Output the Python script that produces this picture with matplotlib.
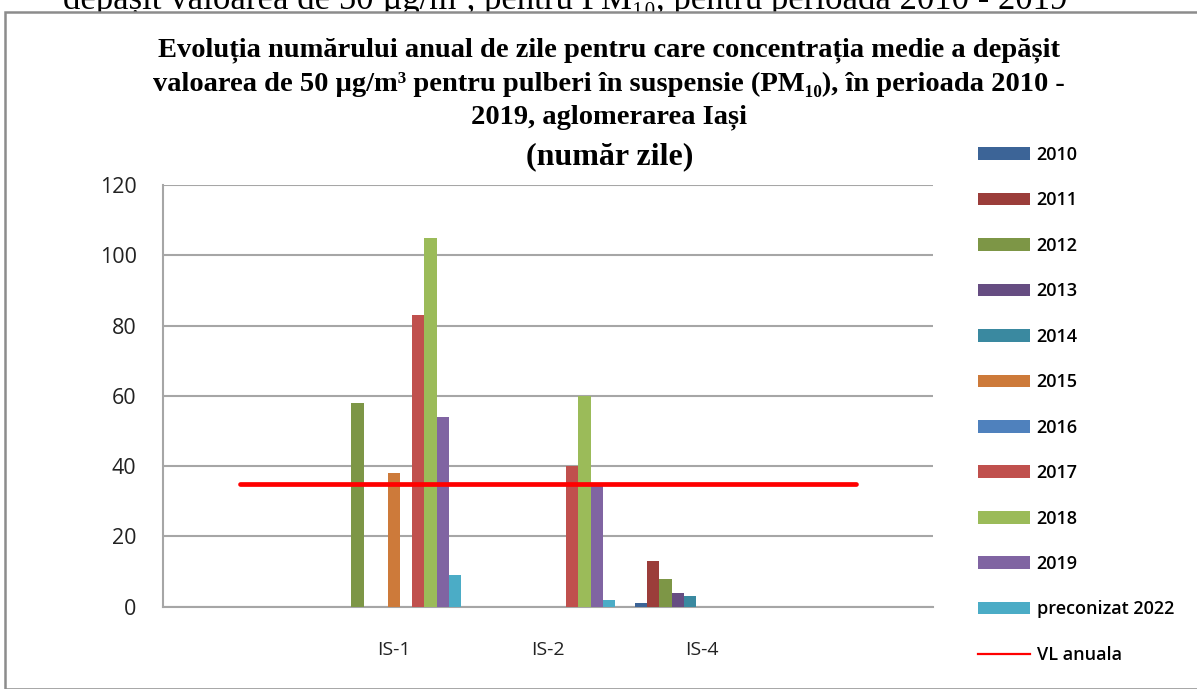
import numpy as np
import matplotlib.pyplot as plt
from matplotlib.patches import Rectangle
from matplotlib.lines import Line2D

# category axis has one empty slot on each side (as in the Excel chart)
categories = ['', 'IS-1', 'IS-2', 'IS-4', '']
series_names = ['2010', '2011', '2012', '2013', '2014', '2015', '2016',
                '2017', '2018', '2019', 'preconizat 2022']
v2010 = [0, 0, 0, 1, 0]
v2011 = [0, 0, 0, 13, 0]
v2012 = [0, 58, 0, 8, 0]
v2013 = [0, 0, 0, 4, 0]
v2014 = [0, 0, 0, 3, 0]
v2015 = [0, 38, 0, 0, 0]
v2016 = [0, 0, 0, 0, 0]
v2017 = [0, 83, 40, 0, 0]
v2018 = [0, 105, 60, 0, 0]
v2019 = [0, 54, 35, 0, 0]
v2022 = [0, 9, 2, 0, 0]
vl_anuala = [35, 35, 35, 35, 35]

series_values = [v2010, v2011, v2012, v2013, v2014, v2015, v2016,
                 v2017, v2018, v2019, v2022]
colors = ['#3C6497', '#9B3D3A', '#7D9646', '#664D82', '#3A89A0', '#CD7A3A',
          '#4F81BD', '#C0504D', '#9BBB59', '#8064A2', '#4BACC6']

W, H = 1197, 689
fig = plt.figure(figsize=(W / 100, H / 100), dpi=100)
serif = ['Liberation Serif', 'DejaVu Serif']
sans = ['Open Sans', 'DejaVu Sans']

# text of the document behind the chart, cut off by the chart frame
fig.text(565 / W, 1 - 9 / H,
         'depășit valoarea de 50 µg/m³, pentru PM₁₀, pentru perioada 2010 - 2019',
         family=serif, fontsize=25, ha='center', va='baseline', zorder=1)
fig.patches.append(Rectangle((5 / W, 0), 1, 1 - 12 / H, transform=fig.transFigure,
                             facecolor='white', edgecolor='#8C8C8C', lw=1.8,
                             zorder=2))

ax = fig.add_axes([163 / W, 1 - 606.7 / H, 770 / W, (606.7 - 185) / H])
ax.set_zorder(3)
ax.patch.set_alpha(0)

x = np.arange(len(categories))
bw = 0.0792
handles = []
for i, (name, vals, c) in enumerate(zip(series_names, series_values, colors)):
    b = ax.bar(x + (i - 5) * bw, vals, bw, color=c, label=name, zorder=3,
               edgecolor='none')
    handles.append(b)

ax.plot(x, vl_anuala, color='#FF0000', lw=3.4, solid_capstyle='round', zorder=4)
handles.append(Line2D([], [], color='#FF0000', lw=1.6))

ax.set_xlim(-0.5, 4.5)
ax.set_ylim(0, 120)
ax.set_yticks(range(0, 121, 20))
ax.set_xticks(x)
ax.set_xticklabels(categories)
ax.yaxis.grid(True, color='#A6A6A6', lw=1.5, zorder=0)
for s in ['top', 'right']:
    ax.spines[s].set_visible(False)
for s in ['left', 'bottom']:
    ax.spines[s].set_color('#A6A6A6')
    ax.spines[s].set_linewidth(1.5)
ax.tick_params(axis='y', length=0, pad=19, labelsize=15.5)
ax.tick_params(axis='x', length=0, pad=25, labelsize=14)
for lab in ax.get_yticklabels() + ax.get_xticklabels():
    lab.set_family(sans)
    lab.set_color('#222222')

leg = fig.legend(handles, series_names + ['VL anuala'],
                 loc='upper left', bbox_to_anchor=(978 / W, 1 - 146 / H),
                 frameon=False, prop={'family': sans, 'size': 13, 'weight': 'semibold'},
                 labelspacing=1.52, handlelength=2.9, handletextpad=0.35,
                 borderpad=0, borderaxespad=0)

# title lines
tkw = dict(family=serif, weight='bold', ha='center', va='center', zorder=5)
fig.text(609 / W, 1 - 50 / H,
         'Evoluția numărului anual de zile pentru care concentrația medie a depășit',
         fontsize=20.5, **tkw)
fig.text(609 / W, 1 - 84 / H,
         'valoarea de 50 µg/m³ pentru pulberi în suspensie (PM₁₀), în perioada 2010 -',
         fontsize=20.5, **tkw)
fig.text(609 / W, 1 - 117 / H, '2019, aglomerarea Iași', fontsize=20.5, **tkw)
fig.text(610 / W, 1 - 157 / H, '(număr zile)', fontsize=23, **tkw)

fig.savefig('out.png', dpi=100)
